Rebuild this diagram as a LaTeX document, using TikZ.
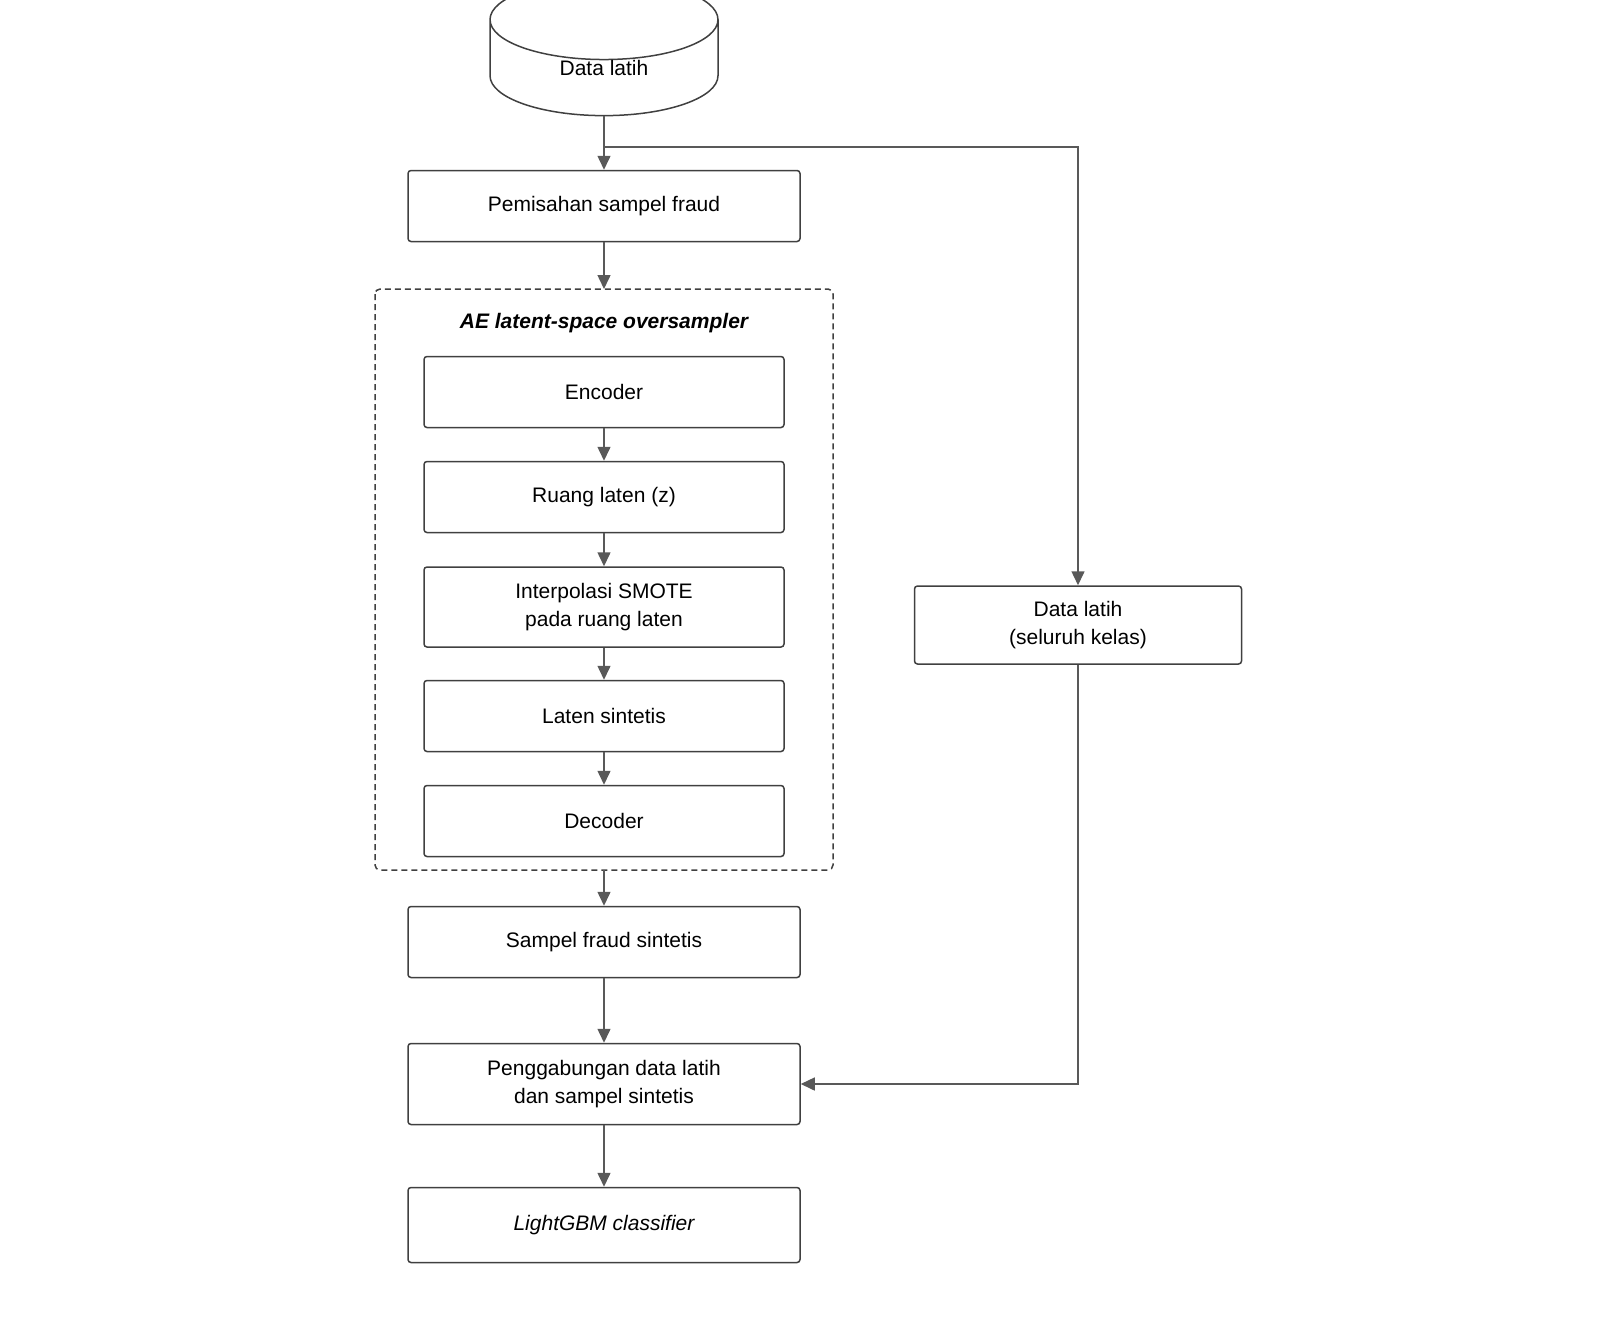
\documentclass[tikz,border=0pt]{standalone}
\usepackage{fontspec}
\setmainfont{Liberation Sans}
\usetikzlibrary{shapes.geometric,arrows.meta}

\tikzset{every picture/.style={line width=1.5pt}}
\tikzset{
  box/.style={draw=black!75, rounded corners=3pt, align=center, inner sep=0pt,
    font=\fontsize{21}{28}\selectfont},
  flow/.style={draw=black!65, -{Triangle[length=14pt,width=13pt]}}
}

\begin{document}
\begin{tikzpicture}[x=1pt,y=-1pt]
\useasboundingbox (0,0) rectangle (1600,1336);

%Cylinder
\node (data) [draw=black!75, cylinder, shape border rotate=90, aspect=0.9, minimum width=228, minimum height=121, inner sep=0pt, font=\fontsize{21}{28}\selectfont] at (604,68) {Data latih};

%Main column
\node (pisah) [box, minimum width=392, minimum height=71] at (604,206) {Pemisahan sampel fraud};

%Oversampler group
\draw [draw=black!75, dashed, dash pattern=on 6pt off 4pt, rounded corners=5pt] (375,289) rectangle (833,870);
\node (judul) [font=\fontsize{21}{28}\selectfont\bfseries\itshape] at (604,323) {AE latent-space oversampler};
\node (enc) [box, minimum width=360, minimum height=71] at (604,392) {Encoder};
\node (ruang) [box, minimum width=360, minimum height=71] at (604,497) {Ruang laten (z)};
\node (smote) [box, minimum width=360, minimum height=80] at (604,607) {Interpolasi SMOTE\\pada ruang laten};
\node (lsin) [box, minimum width=360, minimum height=71] at (604,716) {Laten sintetis};
\node (dec) [box, minimum width=360, minimum height=71] at (604,821) {Decoder};
\coordinate (grpbot) at (604,870);
\coordinate (grptop) at (604,289);

\node (sfs) [box, minimum width=392, minimum height=71] at (604,942) {Sampel fraud sintetis};
\node (gabung) [box, minimum width=392, minimum height=81] at (604,1084) {Penggabungan data latih\\dan sampel sintetis};
\node (lgbm) [box, minimum width=392, minimum height=75] at (604,1225) {\itshape LightGBM classifier};

%Right branch
\node (semua) [box, minimum width=327, minimum height=78] at (1078,625) {Data latih\\(seluruh kelas)};
\coordinate (cabang) at (604,147);

%Connectors
\draw [flow] (data.bottom) -- (pisah);
\draw [flow] (pisah) -- (grptop);
\draw [flow] (enc) -- (ruang);
\draw [flow] (ruang) -- (smote);
\draw [flow] (smote) -- (lsin);
\draw [flow] (lsin) -- (dec);
\draw [flow] (grpbot) -- (sfs);
\draw [flow] (sfs) -- (gabung);
\draw [flow] (gabung) -- (lgbm);
\draw [flow] (cabang) -| (semua);
\draw [flow] (semua) |- (gabung);

\end{tikzpicture}
\end{document}
